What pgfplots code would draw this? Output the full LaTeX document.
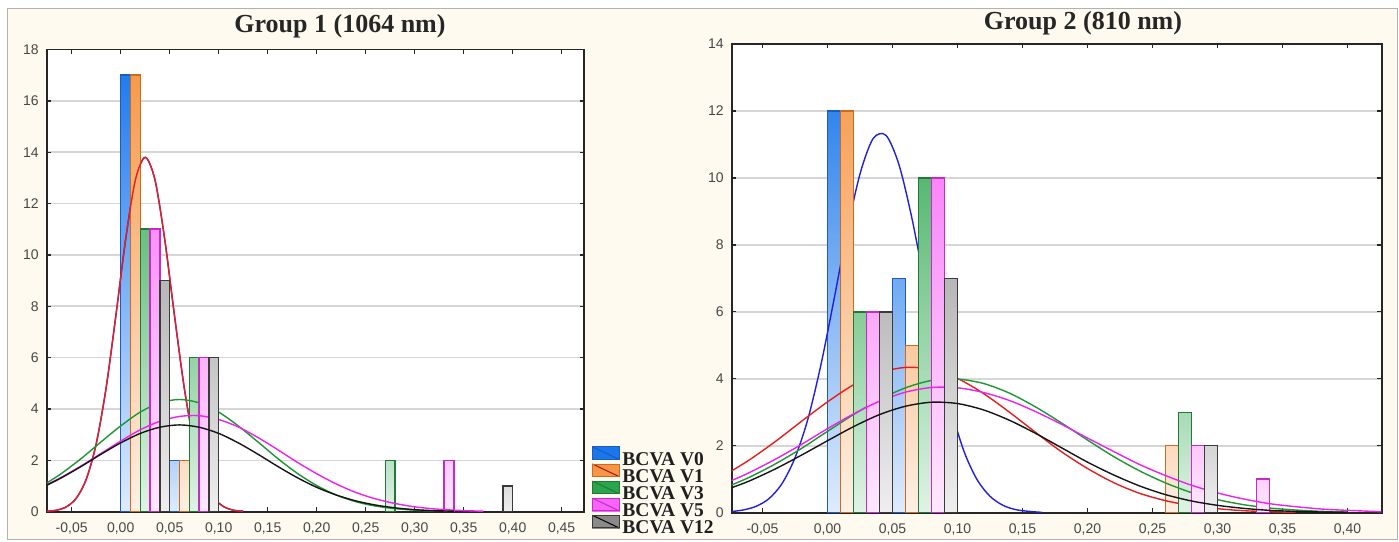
\documentclass[border=0pt]{standalone}
\usepackage{fontspec}
\setmainfont{Liberation Serif}
\newfontfamily\tickfont{Liberation Sans}
\usepackage{pgfplots}
\pgfplotsset{compat=1.18}

\definecolor{bgc}{HTML}{FFFAF0}
\definecolor{cB}{HTML}{1976EB}\definecolor{cBd}{HTML}{1A5CC4}
\definecolor{cO}{HTML}{F59646}\definecolor{cOd}{HTML}{CC6A1E}
\definecolor{cG}{HTML}{2AA54C}\definecolor{cGd}{HTML}{1E7A36}
\definecolor{cM}{HTML}{F864F8}\definecolor{cMd}{HTML}{C42CC4}
\definecolor{cK}{HTML}{8A8A8A}\definecolor{cKd}{HTML}{3A3A3A}
\definecolor{lB}{HTML}{2020DC}
\definecolor{lR}{HTML}{E61E1E}
\definecolor{lG}{HTML}{1E9632}
\definecolor{lM}{HTML}{EE22EE}
\definecolor{lK}{HTML}{151515}

\pgfplotsset{
  panel/.style={
    scale only axis, ymin=0,
    axis background/.style={fill=white},
    axis line style={line width=1.6pt, black!85},
    tick align=inside, major tick length=4.5pt,
    tick style={line width=1.3pt, black!85},
    ymajorgrids, grid style={line width=1.6pt, black!16},
    tick label style={font=\tickfont\fontsize{14}{14}\selectfont, text=black!72},
    scaled x ticks=false,
    x tick label style={/pgf/number format/.cd, fixed, fixed zerofill, precision=2, use comma, assume math mode=true, /tikz/.cd, yshift=-7pt},
    y tick label style={/pgf/number format/assume math mode=true, xshift=-4.5pt},
  },
  hb/.style 2 args={ybar, bar width=0.01, bar shift=0pt, forget plot, draw=#1d, line width=1.5pt, top color=#1!#2!white, bottom color=#1!14!white},
  fit/.style={smooth, line width=1.4pt, draw=#1, forget plot},
}

\begin{document}
\begin{tikzpicture}
\fill[white] (0pt,0pt) rectangle (1399pt,541pt);
\filldraw[fill=bgc, draw=black!30, line width=1pt] (7.5pt,1.5pt) rectangle (1397pt,532.7pt);
\node[font=\bfseries\fontsize{26}{26}\selectfont, text=black!85] at (340pt,515pt) {Group 1 (1064 nm)};
\node[font=\bfseries\fontsize{26}{26}\selectfont, text=black!85] at (1083pt,518pt) {Group 2 (810 nm)};

% ---------------- Group 1 ----------------
\begin{axis}[panel,
  at={(46.7pt,29.3pt)}, anchor=south west,
  width=537.3pt, height=462.2pt,
  xmin=-0.0755, xmax=0.4728, ymax=18,
  xtick={-0.05,0,0.05,0.1,0.15,0.2,0.25,0.3,0.35,0.4,0.45},
  ytick={0,2,4,6,8,10,12,14,16,18},
  legend style={at={(axis description cs:1.0143,-0.051)}, anchor=south west,
    draw=none, fill=none, inner sep=0pt, row sep=-3.2pt, column sep=3pt,
    font=\bfseries\fontsize{19.5}{19.5}\selectfont, nodes={inner sep=0pt, text=black!88}},
  legend cell align=left,
]
% BCVA V0
\addplot[hb={cB}{96}] coordinates {(0.005,17)};
\addplot[hb={cB}{33}] coordinates {(0.055,2)};
\addplot[fit=lB] coordinates {(-0.075,0.02) (-0.065,0.06) (-0.055,0.20) (-0.045,0.54) (-0.035,1.28) (-0.025,2.64) (-0.015,4.79) (-0.005,7.61) (0.005,10.59) (0.015,12.92) (0.025,13.80) (0.035,12.92) (0.045,10.59) (0.055,7.61) (0.065,4.79) (0.075,2.64) (0.085,1.28) (0.095,0.54) (0.105,0.20) (0.115,0.06) (0.125,0.02)};
% BCVA V1
\addplot[hb={cO}{96}] coordinates {(0.015,17)};
\addplot[hb={cO}{33}] coordinates {(0.065,2)};
\addplot[fit=lR] coordinates {(-0.075,0.02) (-0.065,0.06) (-0.055,0.20) (-0.045,0.54) (-0.035,1.28) (-0.025,2.64) (-0.015,4.79) (-0.005,7.61) (0.005,10.59) (0.015,12.92) (0.025,13.80) (0.035,12.92) (0.045,10.59) (0.055,7.61) (0.065,4.79) (0.075,2.64) (0.085,1.28) (0.095,0.54) (0.105,0.20) (0.115,0.06) (0.125,0.02)};
% BCVA V3
\addplot[hb={cG}{71}] coordinates {(0.025,11)};
\addplot[hb={cG}{50}] coordinates {(0.075,6)};
\addplot[hb={cG}{33}] coordinates {(0.275,2)};
\addplot[fit=lG] coordinates {(-0.075,1.13) (-0.06,1.50) (-0.04,2.08) (-0.02,2.72) (0,3.34) (0.02,3.88) (0.04,4.24) (0.06,4.37) (0.08,4.24) (0.10,3.88) (0.12,3.34) (0.14,2.72) (0.16,2.08) (0.18,1.50) (0.20,1.02) (0.22,0.65) (0.24,0.39) (0.26,0.22) (0.28,0.12) (0.30,0.06) (0.32,0.03)};
% BCVA V5
\addplot[hb={cM}{71}] coordinates {(0.035,11)};
\addplot[hb={cM}{50}] coordinates {(0.085,6)};
\addplot[hb={cM}{33}] coordinates {(0.335,2)};
\addplot[fit=lM] coordinates {(-0.075,1.06) (-0.06,1.35) (-0.04,1.79) (-0.02,2.27) (0,2.75) (0.02,3.19) (0.04,3.52) (0.06,3.71) (0.08,3.74) (0.10,3.59) (0.12,3.30) (0.14,2.89) (0.16,2.42) (0.18,1.93) (0.20,1.48) (0.22,1.08) (0.24,0.75) (0.26,0.50) (0.28,0.32) (0.30,0.19) (0.32,0.11) (0.34,0.06) (0.36,0.03) (0.37,0.02)};
% BCVA V12
\addplot[hb={cK}{62}] coordinates {(0.045,9)};
\addplot[hb={cK}{50}] coordinates {(0.095,6)};
\addplot[hb={cK}{29}] coordinates {(0.395,1)};
\addplot[fit=lK] coordinates {(-0.075,1.04) (-0.06,1.33) (-0.04,1.77) (-0.02,2.24) (0,2.68) (0.02,3.05) (0.04,3.29) (0.06,3.38) (0.08,3.29) (0.10,3.05) (0.12,2.68) (0.14,2.24) (0.16,1.77) (0.18,1.33) (0.20,0.95) (0.22,0.65) (0.24,0.42) (0.26,0.26) (0.28,0.15) (0.30,0.08) (0.32,0.04) (0.34,0.02)};

\addlegendimage{legend image code/.code={\fill[cB] (0pt,0pt) rectangle (26.6pt,12.6pt); \draw[cBd,line width=1pt] (0pt,12.6pt)--(26.6pt,0pt); \draw[cBd,line width=0.8pt] (0pt,0pt) rectangle (26.6pt,12.6pt);}}
\addlegendentry{BCVA V0}
\addlegendimage{legend image code/.code={\fill[cO] (0pt,0pt) rectangle (26.6pt,12.6pt); \draw[lR!70!black,line width=1pt] (0pt,12.6pt)--(26.6pt,0pt); \draw[cOd,line width=0.8pt] (0pt,0pt) rectangle (26.6pt,12.6pt);}}
\addlegendentry{BCVA V1}
\addlegendimage{legend image code/.code={\fill[cG] (0pt,0pt) rectangle (26.6pt,12.6pt); \draw[cGd,line width=1pt] (0pt,12.6pt)--(26.6pt,0pt); \draw[cGd,line width=0.8pt] (0pt,0pt) rectangle (26.6pt,12.6pt);}}
\addlegendentry{BCVA V3}
\addlegendimage{legend image code/.code={\fill[cM] (0pt,0pt) rectangle (26.6pt,12.6pt); \draw[cMd,line width=1pt] (0pt,12.6pt)--(26.6pt,0pt); \draw[cMd,line width=0.8pt] (0pt,0pt) rectangle (26.6pt,12.6pt);}}
\addlegendentry{BCVA V5}
\addlegendimage{legend image code/.code={\fill[cK] (0pt,0pt) rectangle (26.6pt,12.6pt); \draw[black,line width=1pt] (0pt,12.6pt)--(26.6pt,0pt); \draw[cKd,line width=0.8pt] (0pt,0pt) rectangle (26.6pt,12.6pt);}}
\addlegendentry{BCVA V12}
\end{axis}

% ---------------- Group 2 ----------------
\begin{axis}[panel,
  at={(731.7pt,28.3pt)}, anchor=south west,
  width=650pt, height=468.7pt,
  xmin=-0.0737, xmax=0.4263, ymax=14,
  xtick={-0.05,0,0.05,0.1,0.15,0.2,0.25,0.3,0.35,0.4},
  ytick={0,2,4,6,8,10,12,14},
]
% BCVA V0
\addplot[hb={cB}{89}] coordinates {(0.005,12)};
\addplot[hb={cB}{62}] coordinates {(0.055,7)};
\addplot[fit=lB] coordinates {(-0.075,0.03) (-0.065,0.08) (-0.055,0.19) (-0.045,0.42) (-0.035,0.87) (-0.025,1.64) (-0.015,2.81) (-0.005,4.43) (0.005,6.37) (0.015,8.40) (0.025,10.12) (0.035,11.17) (0.045,11.27) (0.055,10.39) (0.065,8.78) (0.075,6.78) (0.085,4.80) (0.095,3.10) (0.105,1.83) (0.115,0.99) (0.125,0.49) (0.135,0.22) (0.145,0.09) (0.155,0.04) (0.165,0.01)};
% BCVA V1
\addplot[hb={cO}{89}] coordinates {(0.015,12)};
\addplot[hb={cO}{52}] coordinates {(0.065,5)};
\addplot[hb={cO}{36}] coordinates {(0.265,2)};
\addplot[fit=lR] coordinates {(-0.075,1.22) (-0.06,1.58) (-0.04,2.13) (-0.02,2.73) (0,3.31) (0.02,3.82) (0.04,4.18) (0.06,4.34) (0.08,4.28) (0.10,4.01) (0.12,3.56) (0.14,3.00) (0.16,2.40) (0.18,1.82) (0.20,1.32) (0.22,0.90) (0.24,0.58) (0.26,0.36) (0.28,0.21) (0.30,0.12) (0.32,0.06) (0.34,0.03) (0.36,0.01)};
% BCVA V3
\addplot[hb={cG}{57}] coordinates {(0.025,6)};
\addplot[hb={cG}{79}] coordinates {(0.075,10)};
\addplot[hb={cG}{41}] coordinates {(0.275,3)};
\addplot[fit=lG] coordinates {(-0.075,0.81) (-0.06,1.06) (-0.04,1.46) (-0.02,1.92) (0,2.43) (0.02,2.93) (0.04,3.38) (0.06,3.73) (0.08,3.95) (0.10,3.99) (0.12,3.86) (0.14,3.57) (0.16,3.16) (0.18,2.68) (0.20,2.17) (0.22,1.68) (0.24,1.25) (0.26,0.89) (0.28,0.60) (0.30,0.39) (0.32,0.24) (0.34,0.14) (0.36,0.08) (0.38,0.04) (0.40,0.02)};
% BCVA V5
\addplot[hb={cM}{57}] coordinates {(0.035,6)};
\addplot[hb={cM}{79}] coordinates {(0.085,10)};
\addplot[hb={cM}{36}] coordinates {(0.285,2)};
\addplot[hb={cM}{30}] coordinates {(0.335,1)};
\addplot[fit=lM] coordinates {(-0.075,0.94) (-0.06,1.20) (-0.04,1.60) (-0.02,2.04) (0,2.51) (0.02,2.95) (0.04,3.33) (0.06,3.60) (0.08,3.74) (0.10,3.73) (0.12,3.59) (0.14,3.35) (0.16,3.02) (0.18,2.64) (0.20,2.23) (0.22,1.83) (0.24,1.44) (0.26,1.11) (0.28,0.82) (0.30,0.59) (0.32,0.41) (0.34,0.27) (0.36,0.18) (0.38,0.11) (0.40,0.07) (0.426,0.03)};
% BCVA V12
\addplot[hb={cK}{57}] coordinates {(0.045,6)};
\addplot[hb={cK}{62}] coordinates {(0.095,7)};
\addplot[hb={cK}{36}] coordinates {(0.295,2)};
\addplot[fit=lK] coordinates {(-0.075,0.73) (-0.06,0.95) (-0.04,1.31) (-0.02,1.72) (0,2.15) (0.02,2.57) (0.04,2.93) (0.06,3.18) (0.08,3.30) (0.10,3.26) (0.12,3.07) (0.14,2.76) (0.16,2.37) (0.18,1.94) (0.20,1.51) (0.22,1.13) (0.24,0.80) (0.26,0.54) (0.28,0.35) (0.30,0.22) (0.32,0.13) (0.34,0.07) (0.36,0.04) (0.38,0.02) (0.40,0.01)};
\end{axis}
\end{tikzpicture}
\end{document}
